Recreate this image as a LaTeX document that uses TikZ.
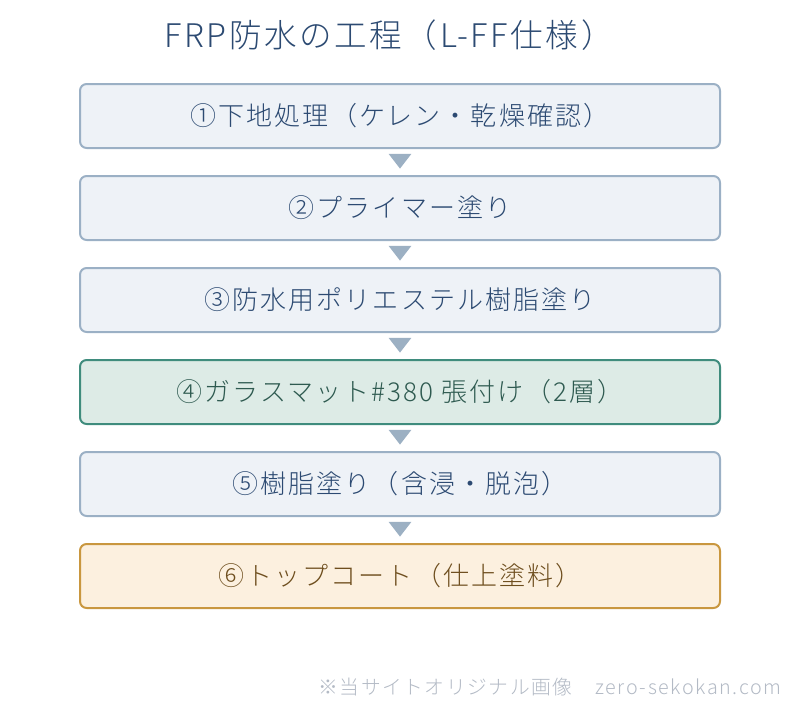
\documentclass[tikz,border=0pt]{standalone}
\usepackage{fontspec}
\setmainfont{Noto Sans CJK JP Light}[LetterSpace=8]
\usetikzlibrary{shapes.geometric}
\definecolor{bfill}{HTML}{EEF2F7}
\definecolor{bline}{HTML}{9BB0C5}
\definecolor{btext}{HTML}{2C4A72}
\definecolor{gfill}{HTML}{DDEBE6}
\definecolor{gline}{HTML}{3F8C7D}
\definecolor{gtext}{HTML}{2E5A50}
\definecolor{ofill}{HTML}{FCF0DF}
\definecolor{oline}{HTML}{C9973F}
\definecolor{otext}{HTML}{6E4E1E}
\definecolor{arr}{HTML}{9CB0C3}
\definecolor{foot}{HTML}{B3BAC5}
\tikzset{
  stepbox/.style={draw=bline, fill=bfill, text=btext, line width=1.5pt, rounded corners=5pt,
    minimum width=480pt, minimum height=48pt, inner sep=0pt, font=\fontsize{19.5}{22}\selectfont},
  greenbox/.style={stepbox, draw=gline, fill=gfill, text=gtext},
  orangebox/.style={stepbox, draw=oline, fill=ofill, text=otext},
  tri/.style={fill=arr, draw=none, isosceles triangle, shape border rotate=-90,
    isosceles triangle stretches=true, minimum width=17pt, minimum height=11pt, inner sep=0pt}
}
\begin{document}
\begin{tikzpicture}[x=0.75pt,y=-0.75pt]
\useasboundingbox (0,0) rectangle (800,708);
\node[text=btext, font=\fontsize{24.4}{28}\selectfont] (title) at (389,35) {FRP防水の工程（L-FF仕様）};
\node[stepbox] (s1) at (400,116) {①下地処理（ケレン・乾燥確認）};
\node[stepbox] (s2) at (400,208) {②プライマー塗り};
\node[stepbox] (s3) at (400,300) {③防水用ポリエステル樹脂塗り};
\node[greenbox] (s4) at (400,392) {④ガラスマット\#380 張付け（2層）};
\node[stepbox] (s5) at (400,484) {⑤樹脂塗り（含浸・脱泡）};
\node[orangebox] (s6) at (400,576) {⑥トップコート（仕上塗料）};
\node[tri] (a1) at (400,159.5) {};
\node[tri] (a2) at (400,251.5) {};
\node[tri] (a3) at (400,343.5) {};
\node[tri] (a4) at (400,435.5) {};
\node[tri] (a5) at (400,527.5) {};
\node[text=foot, anchor=east, font=\fontsize{14.8}{17}\selectfont] (foot) at (786,687) {※当サイトオリジナル画像　zero-sekokan.com};
\end{tikzpicture}
\end{document}
